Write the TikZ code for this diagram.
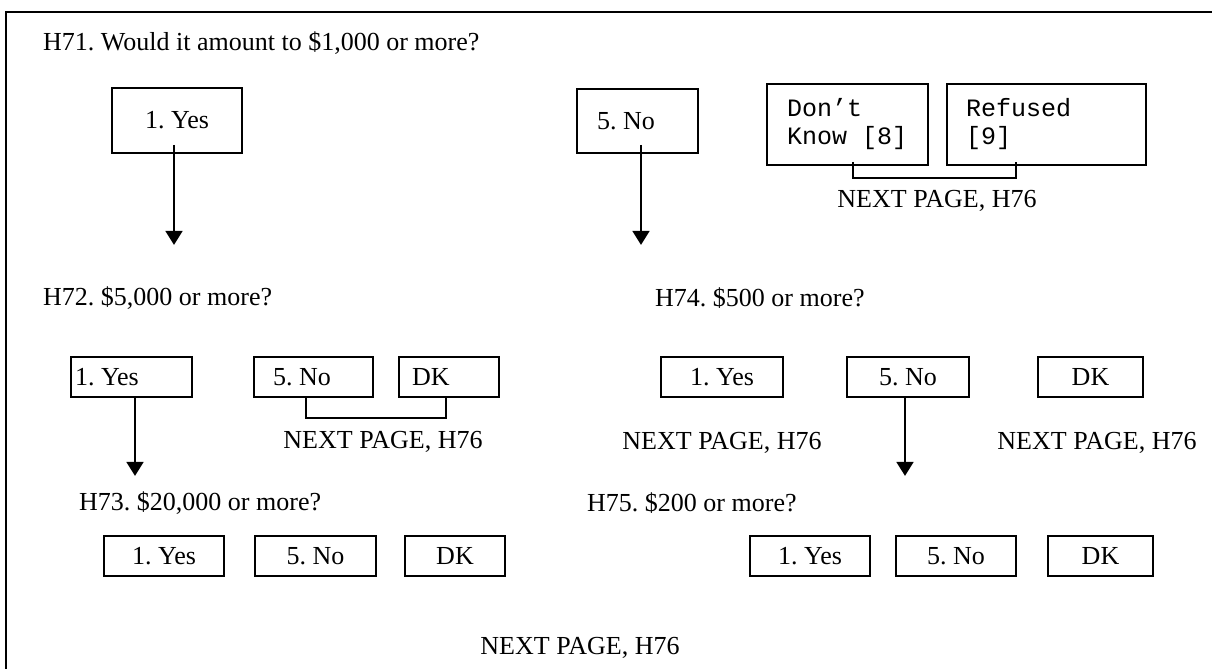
\documentclass[tikz,border=0pt]{standalone}
\usepackage{fontspec}
\setmainfont{Liberation Serif}
\newfontfamily\typefont{Liberation Mono}
\usetikzlibrary{positioning, arrows.meta}
\frenchspacing

\begin{document}
\begin{tikzpicture}[
    x=1pt, y=-1pt,
    choice/.style={
        draw,
        line width=1.8pt,
        minimum height=40pt,
        inner ysep=0pt,
        font=\fontsize{26}{30}\selectfont
    },
    coded/.style={
        draw,
        line width=1.8pt,
        minimum height=81pt,
        align=flush left,
        font=\typefont\fontsize{25}{28}\selectfont
    },
    question/.style={
        anchor=west,
        inner sep=0pt,
        font=\fontsize{26}{30}\selectfont
    },
    goto/.style={
        inner sep=0pt,
        font=\fontsize{26}{30}\selectfont
    },
    arrow/.style={
        -{Triangle[length=14pt, width=17pt]},
        line width=1.8pt
    },
    bracket/.style={
        line width=1.8pt
    }
]
\useasboundingbox (0,0) rectangle (1212,669);

% frame
\draw[line width=2.4pt] (1212,12) -- (6,12) -- (6,669);

% H71
\node[question] (h71) at (43,43) {H71. Would it amount to \$1,000 or more?};

\node[choice, minimum width=130pt, minimum height=65pt] (h71yes) at (177,120.5) {1. Yes};
\node[choice, minimum width=121pt, minimum height=64pt, text width=81pt, inner xsep=20pt, align=flush left] (h71no) at (637.5,121) {5. No};
\node[coded, text width=121pt, inner xsep=20pt] (h71dk) at (847.5,124.5) {Don’t\\Know [8]};
\node[coded, text width=161pt, inner xsep=19pt] (h71rf) at (1046.5,124.5) {Refused\\{[9]}};

\node[goto] (h71next) at (937,201) {NEXT PAGE, H76};

\draw[bracket] ([xshift=5.5pt, yshift=4pt]h71dk.south) -- ++(0,16) -| ([xshift=-30.5pt, yshift=4pt]h71rf.south);

\draw[arrow] ([xshift=-3pt, yshift=9pt]h71yes.south) -- ++(0,100);
\draw[arrow] ([xshift=3.5pt, yshift=9pt]h71no.south) -- ++(0,100);

% H72
\node[question] (h72) at (43,298) {H72. \$5,000 or more?};

\node[choice, minimum width=121pt, text width=113pt, inner xsep=4pt, align=flush left] (h72yes) at (131.5,377) {1. Yes};
\node[choice, minimum width=119pt, text width=81pt, inner xsep=19pt, align=flush left] (h72no) at (313.5,377) {5. No};
\node[choice, minimum width=100pt, text width=74pt, inner xsep=13pt, align=flush left] (h72dk) at (449,377) {DK};

\draw[bracket] ([xshift=-7.5pt]h72no.south) -- ++(0,20) -| ([xshift=-3pt]h72dk.south);
\node[goto] (h72next) at (383,442) {NEXT PAGE, H76};

\draw[arrow] ([xshift=3.5pt]h72yes.south) -- ++(0,78);

% H73
\node[question] (h73) at (79,503) {H73. \$20,000 or more?};

\node[choice, minimum width=120pt] (h73yes) at (164,556) {1. Yes};
\node[choice, minimum width=121pt] (h73no) at (315.5,556) {5. No};
\node[choice, minimum width=100pt] (h73dk) at (455,556) {DK};

% H74
\node[question] (h74) at (655,298) {H74. \$500 or more?};

\node[choice, minimum width=122pt] (h74yes) at (722,377) {1. Yes};
\node[choice, minimum width=122pt] (h74no) at (908,377) {5. No};
\node[choice, minimum width=105pt] (h74dk) at (1090.5,377) {DK};

\node[goto] (h74next1) at (722,443) {NEXT PAGE, H76};
\node[goto] (h74next2) at (1097,443) {NEXT PAGE, H76};

\draw[arrow] ([xshift=-3pt]h74no.south) -- ++(0,78);

% H75
\node[question] (h75) at (587,503) {H75. \$200 or more?};

\node[choice, minimum width=120pt] (h75yes) at (810,556) {1. Yes};
\node[choice, minimum width=120pt] (h75no) at (956,556) {5. No};
\node[choice, minimum width=105pt] (h75dk) at (1100.5,556) {DK};

\node[goto] (lastnext) at (580,648) {NEXT PAGE, H76};

\end{tikzpicture}
\end{document}
